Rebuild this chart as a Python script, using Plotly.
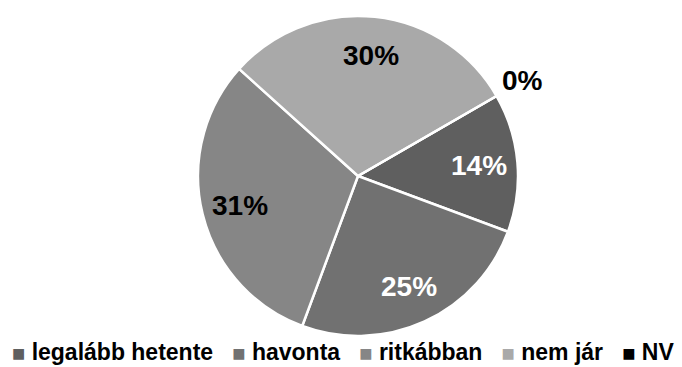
import math
import plotly.graph_objects as go

# Answer categories and their shares (%)
labels = ["legalább hetente", "havonta", "ritkábban", "nem jár", "NV"]
values = [14, 25, 31, 30, 0]

# Slice fills and label text colours
slice_colors = ["#5f5f5f", "#717171", "#868686", "#a9a9a9", "#000000"]
text_colors = ["#ffffff", "#ffffff", "#000000", "#000000", "#000000"]

W, H = 682, 367
START_ANGLE = 60  # degrees clockwise from 12 o'clock

# Pie placement (pixels)
cx, cy, R = 358, 176, 160
dom_x = [(cx - R) / W, (cx + R) / W]
dom_y = [1 - (cy + R) / H, 1 - (cy - R) / H]

fig = go.Figure(
    go.Pie(
        labels=labels,
        values=values,
        sort=False,
        direction="clockwise",
        rotation=START_ANGLE,
        marker=dict(colors=slice_colors, line=dict(color="#ffffff", width=2.5)),
        textinfo="none",
        hoverinfo="label+percent",
        showlegend=False,
        domain=dict(x=dom_x, y=dom_y),
    )
)

# Percentage labels placed at each slice's mid-angle
total = sum(values)
cum = 0
annotations = []
for lab, v, tc in zip(labels, values, text_colors):
    mid = math.radians(START_ANGLE + 360 * (cum + v / 2) / total)
    cum += v
    rr = 0.76 * R if v > 0 else 1.19 * R
    px = cx + rr * math.sin(mid)
    py = cy - rr * math.cos(mid)
    annotations.append(
        dict(
            x=px / W, y=1 - py / H, xref="paper", yref="paper",
            text=f"<b>{round(100 * v / total)}%</b>",
            showarrow=False,
            font=dict(family="Liberation Sans, Arial", size=28, color=tc),
            xanchor="center", yanchor="middle",
        )
    )

# Compact legend row built from the categories and colours
gap = "\u00a0" * 3
items = [
    f"<span style='color:{c};font-size:14px;font-family:DejaVu Sans;"
    f"baseline-shift:2px'>■</span>\u00a0<b>{lab}</b>"
    for lab, c in zip(labels, slice_colors)
]
annotations.append(
    dict(
        x=0.503, y=1 - 352 / H, xref="paper", yref="paper",
        text=gap.join(items),
        showarrow=False,
        font=dict(family="Liberation Sans, Arial", size=23, color="#000000"),
        xanchor="center", yanchor="middle",
    )
)

fig.update_layout(
    width=W, height=H,
    margin=dict(l=0, r=0, t=0, b=0),
    paper_bgcolor="#ffffff",
    plot_bgcolor="#ffffff",
    annotations=annotations,
)

fig.write_html("out.html")
